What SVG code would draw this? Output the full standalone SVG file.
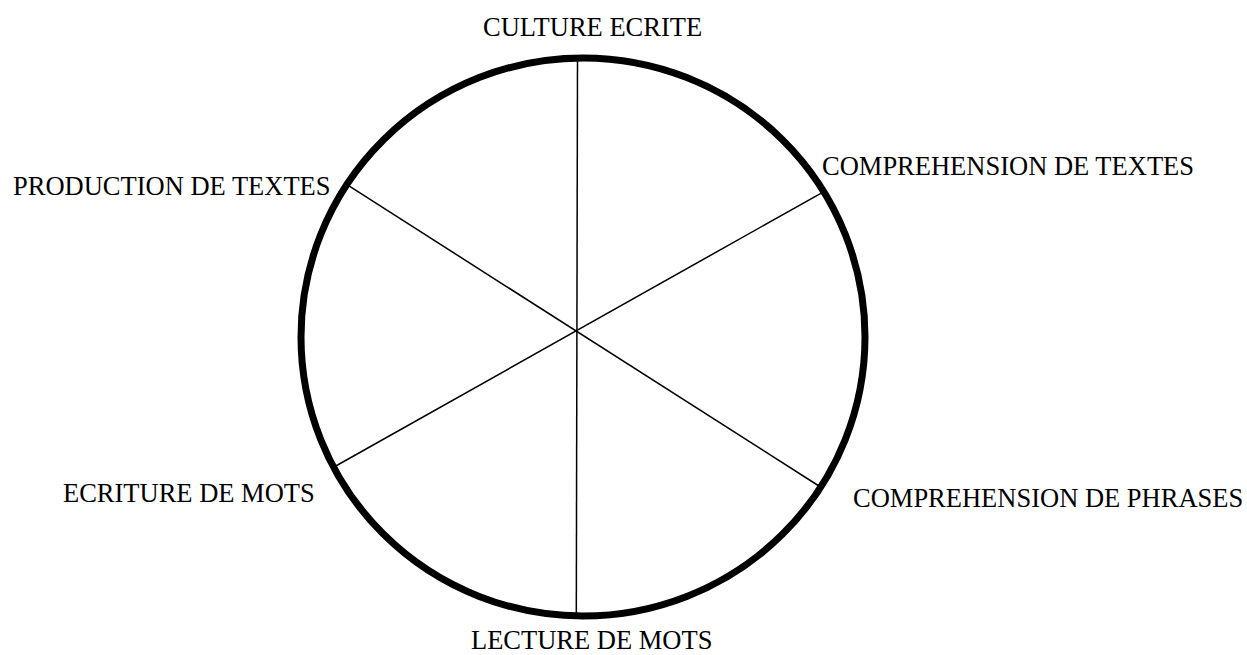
<svg xmlns="http://www.w3.org/2000/svg" width="1247" height="655" viewBox="0 0 1247 655">
<style>
.lbl{font-family:"Liberation Serif","Times New Roman",serif;font-size:26.5px;fill:#000}
.spoke{stroke:#000;stroke-width:1.5;fill:none}
.rim{stroke:#000;stroke-width:7;fill:none}
</style>
<rect width="1247" height="655" fill="#fff"/>
<g id="connectors">
<line class="spoke" x1="577.5" y1="58" x2="576.3" y2="615"/>
<line class="spoke" x1="347" y1="184.7" x2="820.5" y2="487"/>
<line class="spoke" x1="823.5" y1="191.8" x2="334" y2="467"/>
</g>
<g id="wheel">
<ellipse class="rim" cx="583" cy="337" rx="282" ry="279"/>
</g>
<g id="culture-ecrite"><text class="lbl" x="483" y="36">CULTURE ECRITE</text></g>
<g id="comprehension-textes"><text class="lbl" x="822" y="175">COMPREHENSION DE TEXTES</text></g>
<g id="comprehension-phrases"><text class="lbl" x="853" y="507">COMPREHENSION DE PHRASES</text></g>
<g id="lecture-mots"><text class="lbl" x="471" y="649">LECTURE DE MOTS</text></g>
<g id="ecriture-mots"><text class="lbl" x="63" y="502">ECRITURE DE MOTS</text></g>
<g id="production-textes"><text class="lbl" x="13" y="195">PRODUCTION DE TEXTES</text></g>
</svg>
